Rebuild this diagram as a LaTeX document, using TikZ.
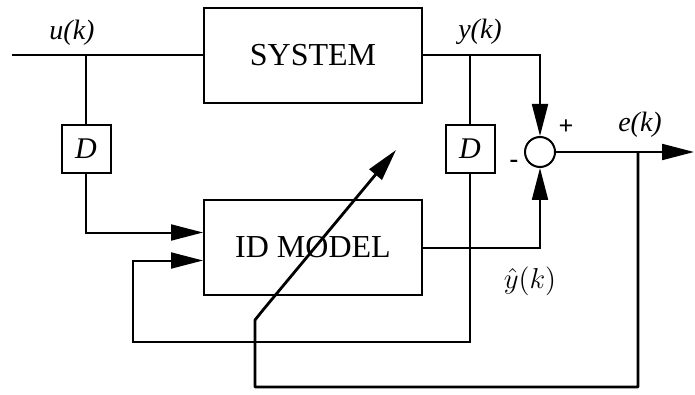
\documentclass[tikz,border=0pt]{standalone}
\usepackage{fontspec}
\setmainfont{Liberation Serif}
\usepackage{amsmath}
\usetikzlibrary{arrows.meta}
\usetikzlibrary{calc}

\begin{document}
\begin{tikzpicture}[x=0.5pt, y=-0.5pt, line width=1pt,
    block/.style={draw, minimum width=109pt, minimum height=47.5pt, font=\fontsize{16}{19}\selectfont},
    delay/.style={draw, minimum width=24.5pt, minimum height=24pt, inner sep=0pt, font=\fontsize{15}{18}\selectfont\itshape},
    sumnode/.style={draw, circle, minimum size=15pt, inner sep=0pt},
    sig/.style={font=\fontsize{14}{17}\selectfont\itshape},
    arr/.style={-{Triangle[length=16pt, width=8pt]}}]
  \useasboundingbox (0,0) rectangle (695,395);
  \node[block] (sys) at (313,55.5) {SYSTEM};
  \node[block] (mod) at (313,247.5) {ID MODEL};
  \node[delay] (dl) at (86,149) {D};
  \node[delay] (dr) at (470,149) {D};
  \node[sumnode] (sum) at (540,152) {};
  % input side
  \coordinate (in) at (12,55.5);
  \coordinate (ub) at (dl |- sys.west);
  \draw (in) -- (sys.west);
  \node[sig] (u) at (72,33) {u(k)};
  \draw (ub) -- (dl.north);
  \draw[arr] (dl.south) |- ($(mod.west)+(0,-15)$);
  % output side
  \coordinate (yb) at (dr |- sys.east);
  \draw[arr] (sys.east) -| (sum.north);
  \node[sig] (y) at (480,32) {y(k)};
  \draw (yb) -- (dr.north);
  \coordinate (lp) at (133,342);
  \draw[arr] (dr.south) |- (lp) |- ($(mod.west)+(0,13)$);
  \draw[arr] (mod.east) -| (sum.south);
  \node (yh) at (530,281) {\fontsize{14}{17}\selectfont$\hat{y}(k)$};
  \node (plus) at (566,127) {\fontsize{13}{15}\selectfont\textbf{+}};
  \node (minus) at (514,164) {\fontsize{13}{15}\selectfont\textbf{-}};
  % error and adaptation
  \coordinate (out) at (694,152);
  \draw[arr] (sum.east) -- (out);
  \node[sig] (e) at (640,125) {e(k)};
  \coordinate (eb) at (638,152);
  \coordinate (ec) at (255,387);
  \coordinate (tip) at (396,150);
  \draw[arr, line width=1.4pt, line join=round] (eb) |- (ec) -- (255,320) -- (263,310) -- (tip);
\end{tikzpicture}
\end{document}
